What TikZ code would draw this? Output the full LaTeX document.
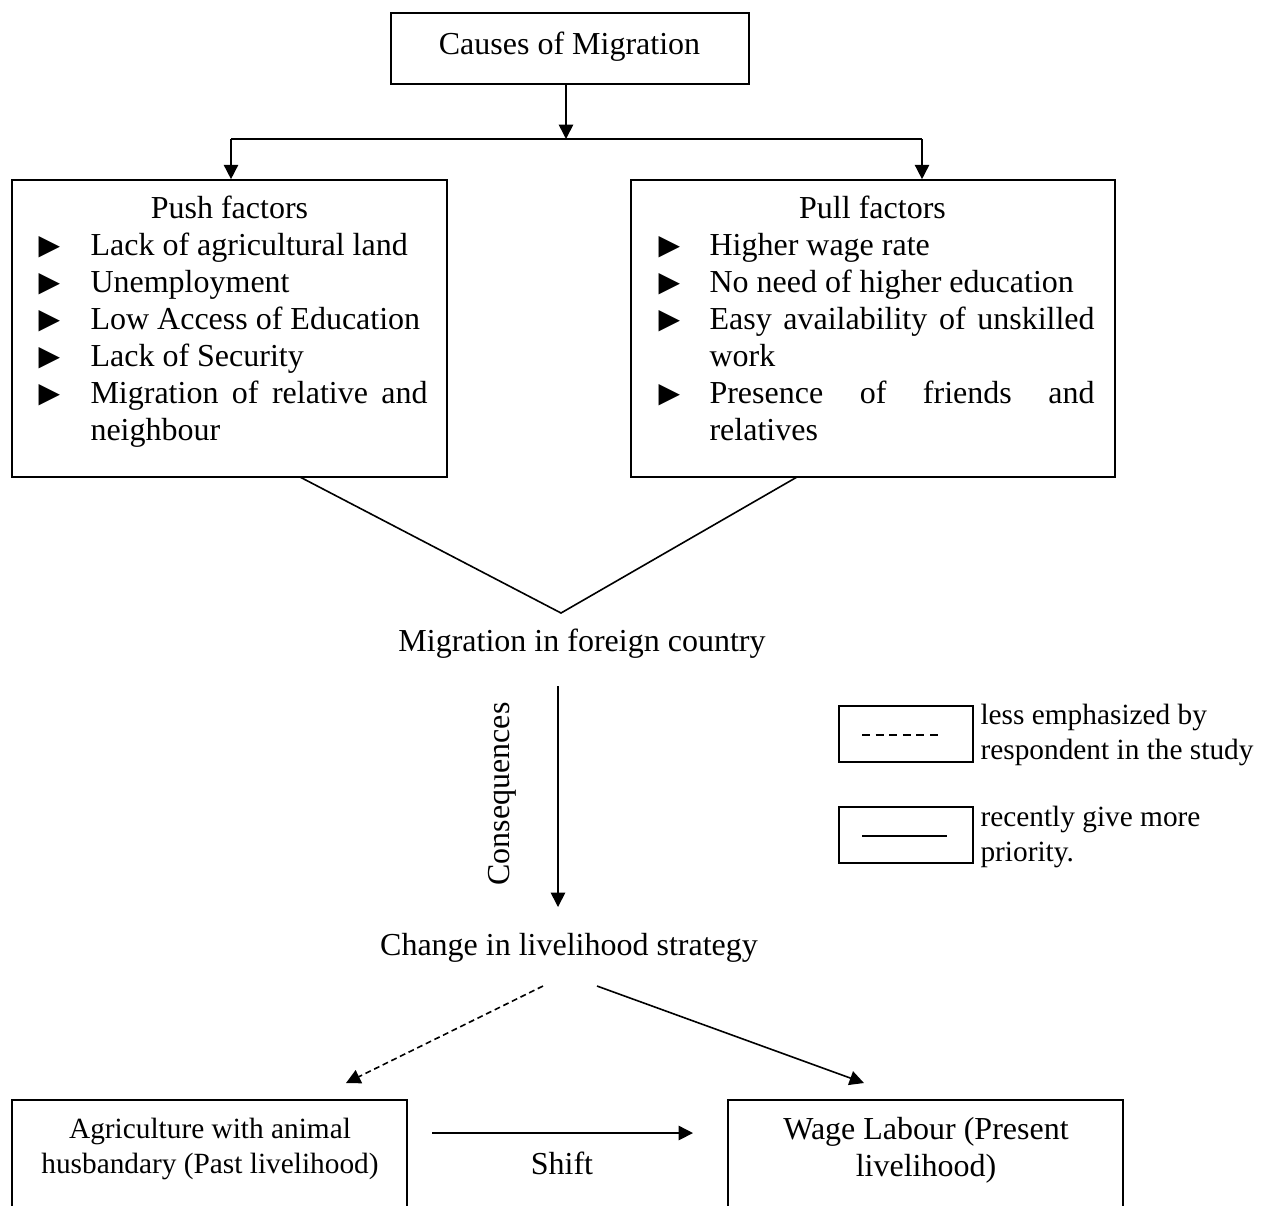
\documentclass[tikz,border=0pt]{standalone}
\usepackage{fontspec}
\setmainfont{Liberation Serif}
\newfontfamily\bulletfont{DejaVu Sans}
\usepackage{tikz}
\usetikzlibrary{arrows.meta}

\newcommand{\tri}{{\bulletfont\fontsize{10.5}{10.5}\selectfont ▶}}

\begin{document}
\begin{tikzpicture}[x=0.375pt, y=-0.375pt,
  every node/.style={font=\fontsize{12}{13.8}\selectfont, inner sep=0pt},
  box/.style={draw, line width=0.6pt},
  small/.style={font=\fontsize{11}{12.9}\selectfont},
  item/.style={anchor=base west},
  link/.style={line width=0.6pt},
  tip/.style={line width=0.6pt, -{Triangle[length=5.4pt,width=5.4pt]}}]
\clip (0,0) rectangle (1271,1205);

% top of the chart
\node [box, minimum width=134.25pt, minimum height=26.6pt] (cause) at (570,48.5) {};
\node (causetxt) at (569.5,47) {Causes of Migration};
\coordinate (split) at (566,139);
\coordinate (lsplit) at (231,139);
\coordinate (rsplit) at (922,139);

% push and pull boxes
\node [box, minimum width=163.1pt, minimum height=111.4pt] (push) at (229.5,328.5) {};
\node [box, minimum width=181.5pt, minimum height=111.4pt] (pull) at (873,328.5) {};

\node [anchor=base] (pushtitle) at (229.5,218) {Push factors};
\node [item] (b1) at (38,254) {\tri};
\node [item] (b2) at (38,291) {\tri};
\node [item] (b3) at (38,328) {\tri};
\node [item] (b4) at (38,365) {\tri};
\node [item] (b5) at (38,402) {\tri};
\node [item] (p1) at (90,255) {Lack of agricultural land};
\node [item] (p2) at (90,292) {Unemployment};
\node [item] (p3) at (90,329) {Low Access of Education};
\node [item] (p4) at (90,366) {Lack of Security};
\node [item] (p5) at (90,403) {\makebox[126.4pt][s]{Migration of relative and}};
\node [item] (p6) at (90,440) {neighbour};

\node [anchor=base] (pulltitle) at (872.5,218) {Pull factors};
\node [item] (c1) at (658,254) {\tri};
\node [item] (c2) at (658,291) {\tri};
\node [item] (c3) at (658,328) {\tri};
\node [item] (c4) at (658,402) {\tri};
\node [item] (q1) at (709,255) {Higher wage rate};
\node [item] (q2) at (709,292) {No need of higher education};
\node [item] (q3) at (709,329) {\makebox[144.4pt][s]{Easy availability of unskilled}};
\node [item] (q4) at (709,366) {work};
\node [item] (q5) at (709,403) {\makebox[144.4pt][s]{Presence of friends and}};
\node [item] (q6) at (709,440) {relatives};

\draw [tip] (cause.south -| split) -- (split);
\draw [link] (lsplit) -- (rsplit);
\draw [tip] (lsplit) -- (lsplit |- push.north);
\draw [tip] (rsplit) -- (rsplit |- pull.north);

% migration and consequences
\coordinate (vl) at (300,477);
\coordinate (vtip) at (561,613);
\coordinate (vr) at (797,477);
\draw [link] (vl) -- (vtip) -- (vr);
\node (mig) at (582,644) {Migration in foreign country};
\coordinate (ctop) at (558,686);
\coordinate (cbot) at (558,907);
\draw [tip] (ctop) -- (cbot);
\node [rotate=90] (cons) at (502,794) {Consequences};
\node (chg) at (569,948) {Change in livelihood strategy};

% legend
\node [box, minimum width=50.25pt, minimum height=21pt] (leg1) at (906,734) {};
\node [box, minimum width=50.25pt, minimum height=21pt] (leg2) at (906,835) {};
\draw [line width=0.5pt, dash pattern=on 3pt off 2.1pt] (862,735) -- (938,735);
\draw [line width=0.6pt] (862,836) -- (947,836);
\node [small, anchor=west, align=left] (legtxt1) at (980,735) {less emphasized by\\respondent in the study};
\node [small, anchor=west, align=left] (legtxt2) at (980,837) {recently give more\\priority.};

% livelihoods
\coordinate (dstart) at (543,986);
\coordinate (dend) at (346,1083);
\coordinate (sstart) at (597,986);
\coordinate (send) at (864,1083);
\draw [tip, dash pattern=on 2.2pt off 1.4pt] (dstart) -- (dend);
\draw [tip] (sstart) -- (send);

\node [box, minimum width=148.1pt, minimum height=52.5pt] (agri) at (209.5,1170) {};
\node [box, minimum width=148.1pt, minimum height=52.5pt] (wage) at (925.5,1170) {};
\node [small, align=center] (agritxt) at (210,1149) {Agriculture with animal\\husbandary (Past livelihood)};
\node [align=center] (wagetxt) at (926,1150) {Wage Labour (Present\\livelihood)};
\coordinate (sh1) at (432,1133);
\coordinate (sh2) at (693,1133);
\draw [tip] (sh1) -- (sh2);
\node (shift) at (562,1163) {Shift};
\end{tikzpicture}
\end{document}
